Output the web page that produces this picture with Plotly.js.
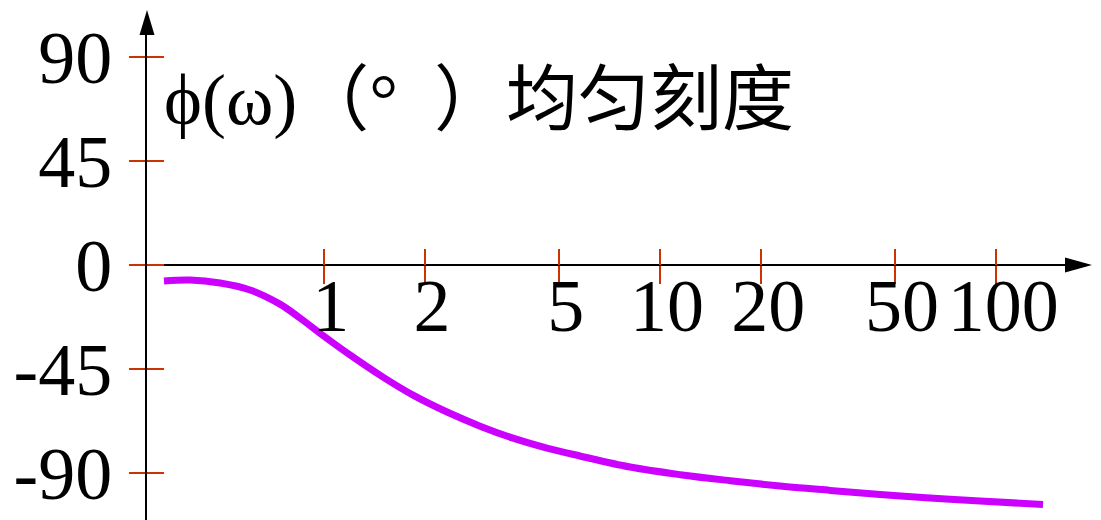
<!DOCTYPE html>
<html>
<head>
<meta charset="utf-8">
<script src="https://cdn.plot.ly/plotly-3.0.1.min.js"></script>
<style>
  html, body { margin: 0; padding: 0; background: #fff; }
  #chart { width: 1101px; height: 520px; }
</style>
</head>
<body>
<div id="chart"></div>
<script>
// Phase response φ(ω) in degrees against a log-spaced frequency axis
const omega    = [0.335, 0.400, 0.492, 0.604, 0.741, 0.850, 1.0, 1.197, 1.501, 1.844, 2.327, 2.918, 3.657,
                  4.613, 5.78, 8.15, 11.48, 16.18, 22.75, 32.07, 45.17, 63.5, 89.5, 137.7];
const phaseDeg = [-6.9, -6.5, -7.8, -10.8, -16.9, -22.9, -30.7, -38.9, -48.5, -56.3, -63.6, -69.7, -74.9,
                  -79.2, -82.6, -87.4, -90.7, -93.3, -95.6, -97.5, -99.3, -100.8, -102.1, -103.6];

const xTickValues = [1, 2, 5, 10, 20, 50, 100];
const xTickLabels = ['1', '2', '5', '10', '20', '50', '100'];
const yTickValues = [-90, -45, 0, 45, 90];
const yTickLabels = ['-90', '-45', '0', '45', '90'];

const titleText = 'ϕ(ω)（°\u2002）均匀刻度';

const serif = 'Liberation Serif, Times New Roman, Noto Sans CJK SC, serif';
const tickRed = '#CC3300';
const curveColor = '#CC00FF';

const yRange = [-110.3, 106.0];
const xRange = [-0.5254, 2.234];           // log10 units
const zeroPos = (0 - yRange[0]) / (yRange[1] - yRange[0]);

const curve = {
  type: 'scatter',
  mode: 'lines',
  x: omega,
  y: phaseDeg,
  line: { color: curveColor, width: 7, shape: 'spline', smoothing: 1 },
  hoverinfo: 'skip',
  showlegend: false
};

// empty trace that binds the second pair of axes (the tick marks on the other side of each axis)
const tickBinder = {
  type: 'scatter',
  mode: 'lines',
  x: [],
  y: [],
  xaxis: 'x2',
  yaxis: 'y2',
  hoverinfo: 'skip',
  showlegend: false
};

const commonX = {
  type: 'log',
  range: xRange,
  anchor: 'free',
  position: zeroPos,
  showgrid: false,
  zeroline: false,
  showline: false,
  tickmode: 'array',
  tickvals: xTickValues,
  tickcolor: tickRed,
  tickwidth: 2,
  automargin: false,
  fixedrange: true
};

const commonY = {
  range: yRange,
  showgrid: false,
  tickmode: 'array',
  tickvals: yTickValues,
  tickcolor: tickRed,
  tickwidth: 2,
  automargin: false,
  fixedrange: true
};

const layout = {
  width: 1101,
  height: 520,
  margin: { l: 147, r: 26, t: 20, b: 0, pad: 0 },
  paper_bgcolor: '#fff',
  plot_bgcolor: '#fff',
  showlegend: false,
  xaxis: Object.assign({}, commonX, {
    ticks: 'outside',
    ticklen: 18,
    ticktext: xTickLabels,
    showticklabels: true,
    ticklabelshift: 7,
    ticklabelstandoff: -42,
    tickfont: { family: serif, size: 74, color: '#000' }
  }),
  xaxis2: Object.assign({}, commonX, {
    overlaying: 'x',
    ticks: 'inside',
    ticklen: 16,
    showticklabels: false
  }),
  yaxis: Object.assign({}, commonY, {
    ticks: 'outside',
    ticklen: 16,
    ticktext: yTickLabels,
    showticklabels: true,
    showline: true,
    linecolor: '#000',
    linewidth: 2,
    zeroline: true,
    zerolinecolor: '#000',
    zerolinewidth: 2,
    ticklabelstandoff: 2,
    tickfont: { family: serif, size: 74, color: '#000' }
  }),
  yaxis2: Object.assign({}, commonY, {
    overlaying: 'y',
    anchor: 'x',
    side: 'left',
    ticks: 'inside',
    ticklen: 17,
    showticklabels: false,
    showline: false,
    zeroline: false
  }),
  shapes: [
    // arrowhead at the end of the frequency axis
    {
      type: 'path', xref: 'paper', yref: 'y',
      xsizemode: 'pixel', ysizemode: 'pixel',
      xanchor: 1, yanchor: 0,
      path: 'M -10 -7.5 L 17 0 L -10 7.5 Z',
      fillcolor: '#000', line: { width: 0 }
    },
    // arrowhead at the top of the phase axis
    {
      type: 'path', xref: 'paper', yref: 'paper',
      xsizemode: 'pixel', ysizemode: 'pixel',
      xanchor: 0, yanchor: 1,
      path: 'M -7.5 -15 L 0 10 L 7.5 -15 Z',
      fillcolor: '#000', line: { width: 0 }
    }
  ],
  annotations: [
    {
      text: titleText,
      xref: 'paper', yref: 'paper',
      x: 15 / 928, y: 0.84,
      xanchor: 'left', yanchor: 'middle',
      showarrow: false,
      font: { family: serif, size: 72, color: '#000' }
    }
  ]
};

Plotly.newPlot('chart', [curve, tickBinder], layout, { staticPlot: true, displayModeBar: false });
</script>
</body>
</html>
